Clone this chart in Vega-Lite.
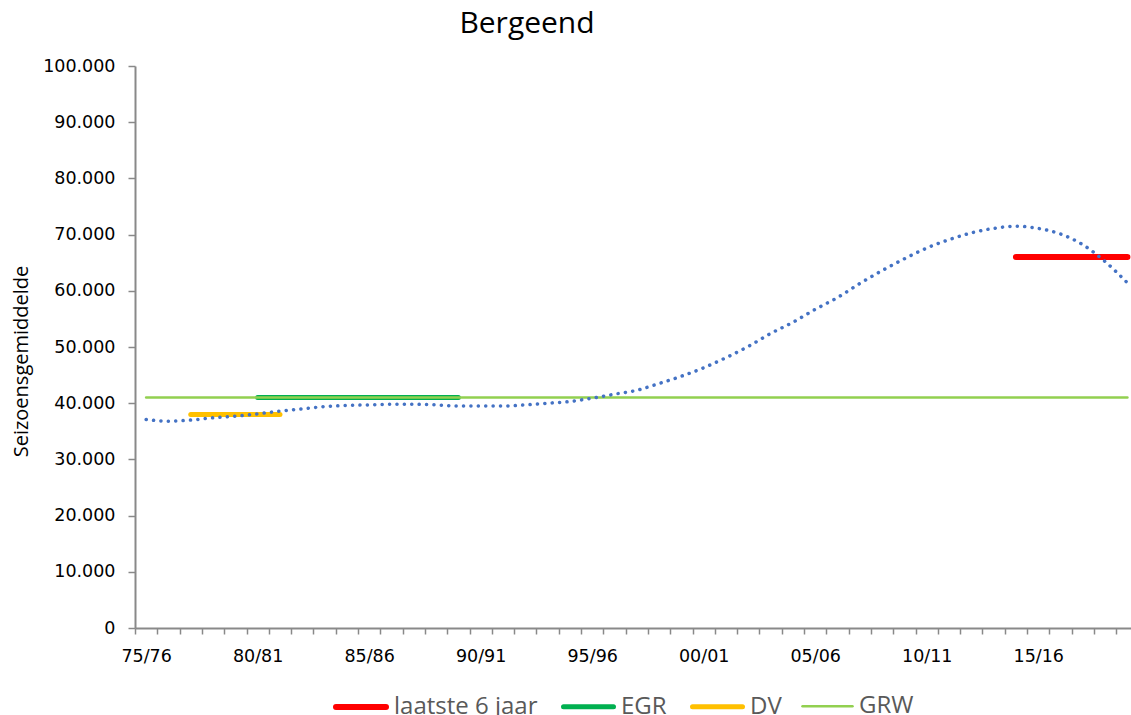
{
  "$schema": "https://vega.github.io/schema/vega-lite/v6.json",
  "width": 996,
  "height": 562,
  "autosize": "none",
  "padding": {"left": 135, "top": 66, "right": 0, "bottom": 87},
  "background": "white",
  "title": {"text": "Bergeend", "font": "Open Sans", "fontSize": 30, "fontWeight": "normal", "color": "#000000", "anchor": "middle", "dx": -106, "dy": 7, "baseline": "alphabetic", "offset": 1},
  "config": {"view": {"stroke": null}},
  "datasets": {
    "lijnen": [
      {"serie": "laatste 6 jaar", "jaar": 2014, "waarde": 66000},
      {"serie": "laatste 6 jaar", "jaar": 2019, "waarde": 66000},
      {"serie": "EGR", "jaar": 1980, "waarde": 41000},
      {"serie": "EGR", "jaar": 1989, "waarde": 41000},
      {"serie": "DV", "jaar": 1977, "waarde": 38000},
      {"serie": "DV", "jaar": 1981, "waarde": 38000},
      {"serie": "GRW", "jaar": 1975, "waarde": 41000},
      {"serie": "GRW", "jaar": 2019, "waarde": 41000}
    ],
    "trend": [
      {"jaar": 1975, "waarde": 37100}, {"jaar": 1976, "waarde": 36800}, {"jaar": 1977, "waarde": 37000},
      {"jaar": 1978, "waarde": 37400}, {"jaar": 1979, "waarde": 37700}, {"jaar": 1980, "waarde": 38100},
      {"jaar": 1981, "waarde": 38600}, {"jaar": 1982, "waarde": 39000}, {"jaar": 1983, "waarde": 39400},
      {"jaar": 1984, "waarde": 39600}, {"jaar": 1985, "waarde": 39700}, {"jaar": 1986, "waarde": 39800},
      {"jaar": 1987, "waarde": 39800}, {"jaar": 1988, "waarde": 39700}, {"jaar": 1989, "waarde": 39500},
      {"jaar": 1990, "waarde": 39500}, {"jaar": 1991, "waarde": 39500}, {"jaar": 1992, "waarde": 39700},
      {"jaar": 1993, "waarde": 40000}, {"jaar": 1994, "waarde": 40300}, {"jaar": 1995, "waarde": 40900},
      {"jaar": 1996, "waarde": 41600}, {"jaar": 1997, "waarde": 42300}, {"jaar": 1998, "waarde": 43500},
      {"jaar": 1999, "waarde": 44800}, {"jaar": 2000, "waarde": 46300}, {"jaar": 2001, "waarde": 48100},
      {"jaar": 2002, "waarde": 50100}, {"jaar": 2003, "waarde": 52400}, {"jaar": 2004, "waarde": 54400},
      {"jaar": 2005, "waarde": 56700}, {"jaar": 2006, "waarde": 58800}, {"jaar": 2007, "waarde": 61300},
      {"jaar": 2008, "waarde": 63600}, {"jaar": 2009, "waarde": 65700}, {"jaar": 2010, "waarde": 67600},
      {"jaar": 2011, "waarde": 69100}, {"jaar": 2012, "waarde": 70300}, {"jaar": 2013, "waarde": 71100},
      {"jaar": 2014, "waarde": 71500}, {"jaar": 2015, "waarde": 71100}, {"jaar": 2016, "waarde": 70100},
      {"jaar": 2017, "waarde": 68200}, {"jaar": 2018, "waarde": 65200}, {"jaar": 2019, "waarde": 61400}
    ]
  },
  "layer": [
    {
      "data": {"name": "lijnen"},
      "mark": {"type": "line", "strokeCap": "round"},
      "encoding": {
        "x": {
          "field": "jaar", "type": "quantitative",
          "scale": {"domain": [1974.5, 2019.16], "nice": false, "zero": false},
          "axis": {
            "values": [1974.5, 1975.5, 1976.5, 1977.5, 1978.5, 1979.5, 1980.5, 1981.5, 1982.5, 1983.5, 1984.5, 1985.5, 1986.5, 1987.5, 1988.5, 1989.5, 1990.5, 1991.5, 1992.5, 1993.5, 1994.5, 1995.5, 1996.5, 1997.5, 1998.5, 1999.5, 2000.5, 2001.5, 2002.5, 2003.5, 2004.5, 2005.5, 2006.5, 2007.5, 2008.5, 2009.5, 2010.5, 2011.5, 2012.5, 2013.5, 2014.5, 2015.5, 2016.5, 2017.5, 2018.5],
            "tickCount": 200,
            "labelExpr": "(datum.value + 0.5) % 5 == 0 ? substring(toString(datum.value + 0.5), 2, 4) + '/' + substring(toString(datum.value + 1.5), 2, 4) : ''",
            "labelOffset": 11.15,
            "title": null,
            "grid": false,
            "tickSize": 6,
            "tickColor": "#898989",
            "tickWidth": 1.5,
            "domainColor": "#898989",
            "domainWidth": 2,
            "labelFont": "DejaVu Sans",
            "labelFontSize": 17.5,
            "labelColor": "#000000",
            "labelPadding": 13,
            "labelOverlap": false,
            "labelFlush": false,
            "labelBound": false
          }
        },
        "y": {
          "field": "waarde", "type": "quantitative",
          "scale": {"domain": [0, 100000], "nice": false},
          "axis": {
            "values": [0, 10000, 20000, 30000, 40000, 50000, 60000, 70000, 80000, 90000, 100000],
            "tickCount": 20,
            "labelExpr": "replace(format(datum.value, ','), ',', '.')",
            "title": "Seizoensgemiddelde",
            "titleFont": "Open Sans",
            "titleFontSize": 20,
            "titleFontWeight": "normal",
            "titleColor": "#000000",
            "titleAngle": -90,
            "titleAlign": "center",
            "titleBaseline": "alphabetic",
            "titleX": -108,
            "titleY": 295,
            "grid": false,
            "tickSize": 7,
            "tickColor": "#898989",
            "tickWidth": 1.5,
            "domainColor": "#898989",
            "domainWidth": 2,
            "labelFont": "DejaVu Sans",
            "labelFontSize": 17.5,
            "labelColor": "#000000",
            "labelPadding": 13
          }
        },
        "color": {
          "field": "serie", "type": "nominal",
          "scale": {"domain": ["laatste 6 jaar", "EGR", "DV", "GRW"], "range": ["#FF0000", "#00B050", "#FFC000", "#92D050"]},
          "legend": {
            "title": null, "orient": "none", "direction": "horizontal", "legendX": 198, "legendY": 613,
            "padding": 0, "labelFont": "Open Sans", "labelFontSize": 24, "labelColor": "#595959",
            "labelOffset": 5, "columnPadding": 15, "symbolSize": 2500, "symbolType": "stroke",
            "labelLimit": 400,
            "encode": {"symbols": {"update": {"strokeCap": {"value": "round"}}}}
          }
        },
        "strokeWidth": {
          "field": "serie", "type": "ordinal",
          "scale": {"type": "ordinal", "domain": ["laatste 6 jaar", "EGR", "DV", "GRW"], "range": [6, 5, 5, 2.5]},
          "legend": {
            "title": null, "orient": "none", "direction": "horizontal", "legendX": 198, "legendY": 613,
            "padding": 0, "labelFont": "Open Sans", "labelFontSize": 24, "labelColor": "#595959",
            "labelOffset": 5, "columnPadding": 15, "symbolSize": 2500, "symbolType": "stroke",
            "labelLimit": 400,
            "encode": {"symbols": {"update": {"strokeCap": {"value": "round"}}}}
          }
        }
      }
    },
    {
      "data": {"name": "trend"},
      "mark": {"type": "line", "color": "#4472C4", "strokeWidth": 3.5, "strokeDash": [0.1, 7.3], "strokeCap": "round", "interpolate": "monotone"},
      "encoding": {
        "x": {"field": "jaar", "type": "quantitative"},
        "y": {"field": "waarde", "type": "quantitative"}
      }
    }
  ]
}
